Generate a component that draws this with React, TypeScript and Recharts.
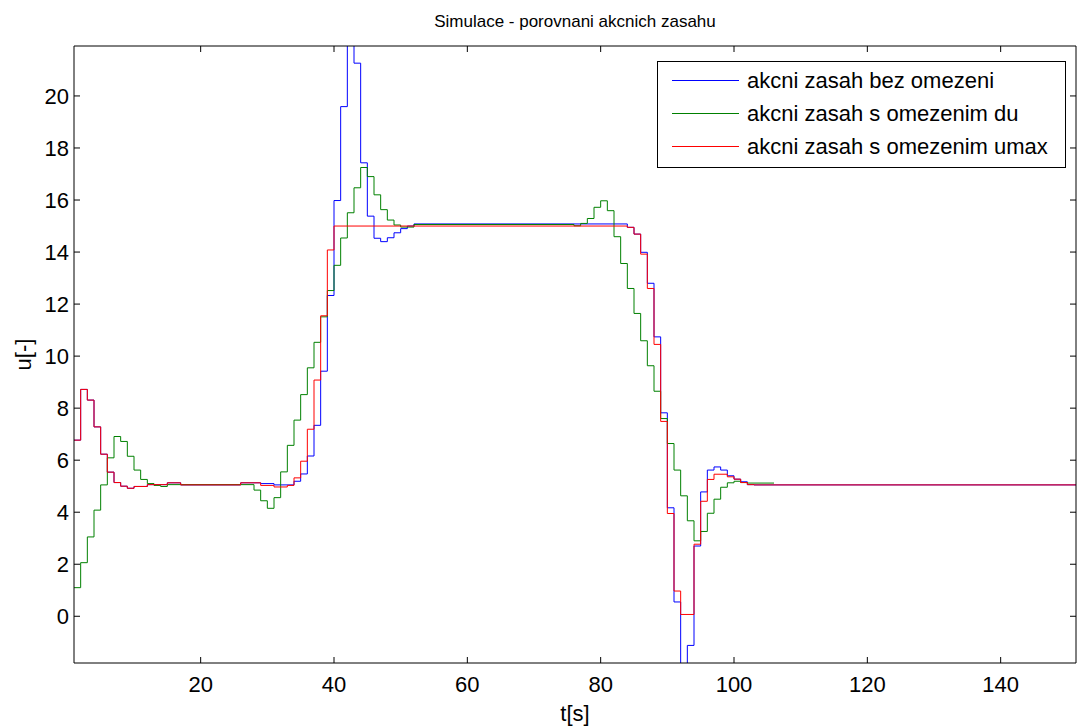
import { LineChart, Line, XAxis, YAxis, Legend } from "recharts";

// ── Data: time [s] where the step starts, and the value u[-] held from there ──
const tBezOmezeni = [
  1, 2, 3, 4, 5, 6, 7, 8, 9, 10, 12, 15, 17, 26, 29, 31,
  34, 35, 36, 37, 38, 39, 40, 41, 42, 43, 44, 45, 46, 47, 48, 49, 50, 51, 52,
  84, 85, 86, 87, 88, 89, 90, 91, 92, 93, 94, 95, 96, 97, 98, 99, 100, 101, 102, 103, 152,
];
const uBezOmezeni = [
  6.77, 8.72, 8.31, 7.28, 6.23, 5.54, 5.14, 5.0, 4.92, 4.99, 5.06, 5.13, 5.05, 5.13, 5.1, 5.05,
  5.19, 5.47, 6.16, 7.34, 9.42, 12.33, 15.98, 19.59, 23.0, 21.26, 17.43, 15.38, 14.53, 14.4, 14.55, 14.74, 14.9, 15.0, 15.08,
  14.95, 14.69, 13.99, 12.8, 10.74, 7.82, 4.17, 0.55, -2.6, -1.12, 2.7, 4.78, 5.62, 5.74, 5.62, 5.4, 5.27, 5.17, 5.06, 5.05, 5.05,
];

const tOmezeniDu = [
  1, 2, 3, 4, 5, 6, 7, 8, 9, 10, 11, 12, 13, 14, 15,
  28, 29, 30, 31, 32, 33, 34, 35, 36, 37, 38, 39, 40, 41, 42, 43, 44, 45, 46, 47, 48, 49, 50, 52,
  76, 77, 78, 79, 80, 81, 82, 83, 84, 85, 86, 87, 88, 89, 90, 91, 92, 93, 94, 95, 96, 97, 98, 99, 100, 101, 102, 106,
];
const uOmezeniDu = [
  1.1, 2.06, 3.05, 4.08, 5.05, 6.09, 6.91, 6.72, 6.15, 5.62, 5.26, 5.1, 5.03, 4.99, 5.06,
  4.85, 4.44, 4.15, 4.56, 5.55, 6.57, 7.54, 8.52, 9.55, 10.53, 11.51, 12.52, 13.49, 14.54, 15.51, 16.47, 17.25, 16.9, 16.2, 15.63, 15.23, 15.04, 14.96, 15.06,
  15.01, 15.1, 15.29, 15.72, 15.97, 15.59, 14.59, 13.56, 12.6, 11.64, 10.59, 9.63, 8.65, 7.6, 6.64, 5.62, 4.63, 3.67, 2.9, 3.26, 3.96, 4.5, 4.96, 5.13, 5.19, 5.14, 5.12, 5.12,
];

const tOmezeniUmax = [
  1, 2, 3, 4, 5, 6, 7, 8, 9, 10, 12, 15, 17, 26, 29, 31, 33,
  34, 35, 36, 37, 38, 39, 40,
  84, 85, 86, 87, 88, 89, 90, 91, 92, 94, 95, 96, 97, 99, 100, 101, 102, 103, 152,
];
const uOmezeniUmax = [
  6.77, 8.72, 8.31, 7.28, 6.23, 5.54, 5.14, 5.0, 4.92, 4.99, 5.06, 5.13, 5.05, 5.13, 5.03, 4.97, 5.03,
  5.32, 5.96, 7.19, 9.08, 11.55, 14.08, 15.0,
  14.95, 14.69, 13.92, 12.6, 10.45, 7.49, 3.95, 0.97, 0.07, 2.77, 4.42, 5.26, 5.46, 5.36, 5.27, 5.14, 5.06, 5.05, 5.05,
];

const seriesNames = [
  "akcni zasah bez omezeni",
  "akcni zasah s omezenim du",
  "akcni zasah s omezenim umax",
];
const seriesColors = ["#0000ff", "#008000", "#ff0000"];

const xTicks = [20, 40, 60, 80, 100, 120, 140];
const yTicks = [0, 2, 4, 6, 8, 10, 12, 14, 16, 18, 20];

const X_DOMAIN: [number, number] = [1, 151.3];
const Y_DOMAIN: [number, number] = [-1.796, 21.92];

const FONT = "'Liberation Sans', Arial, Helvetica, sans-serif";

const toSteps = (t: number[], u: number[]) => t.map((x, i) => ({ t: x, u: u[i] }));
const seriesData = [
  toSteps(tBezOmezeni, uBezOmezeni),
  toSteps(tOmezeniDu, uOmezeniDu),
  toSteps(tOmezeniUmax, uOmezeniUmax),
];

// ── Legend box (MATLAB style) ────────────────────────────────────────────────
function LegendBox() {
  return (
    <div
      style={{
        boxSizing: "border-box",
        width: 409,
        height: 107,
        border: "1px solid #000",
        background: "#fff",
        paddingTop: 2,
      }}
    >
      {seriesNames.map((name, i) => (
        <div key={name} style={{ display: "flex", alignItems: "center", height: 33 }}>
          <svg width={67} height={3} style={{ marginLeft: 14, display: "block" }}>
            <line x1={0} y1={1.5} x2={67} y2={1.5} stroke={seriesColors[i]} strokeWidth={1} />
          </svg>
          <span style={{ marginLeft: 8, fontSize: 22, color: "#000", whiteSpace: "nowrap" }}>
            {name}
          </span>
        </div>
      ))}
    </div>
  );
}

function YLabel({ viewBox }: any) {
  const cy = viewBox.y + viewBox.height / 2;
  return (
    <text
      x={0}
      y={0}
      transform={`translate(23, ${cy}) rotate(-90)`}
      textAnchor="middle"
      dy="0.35em"
      fontSize={22}
      fill="#000"
    >
      u[-]
    </text>
  );
}

export default function App() {
  return (
    <div
      style={{
        position: "absolute",
        left: 0,
        top: 0,
        width: 1078,
        height: 726,
        background: "#fff",
        fontFamily: FONT,
      }}
    >
      <div
        style={{
          position: "absolute",
          left: 74,
          top: 12,
          width: 1002,
          textAlign: "center",
          fontSize: 17,
          lineHeight: "20px",
          color: "#000",
        }}
      >
        Simulace - porovnani akcnich zasahu
      </div>
      <LineChart width={1078} height={726} margin={{ top: 45, right: 1, bottom: 0, left: 0 }}>
        <XAxis
          xAxisId="b"
          type="number"
          dataKey="t"
          domain={X_DOMAIN}
          ticks={xTicks}
          interval={0}
          allowDataOverflow
          height={63}
          tickSize={-6}
          tickMargin={19}
          stroke="#000"
          tick={{ fill: "#000", fontSize: 22 }}
          label={{ value: "t[s]", position: "insideBottom", offset: 5, fill: "#000", fontSize: 22 }}
        />
        <XAxis
          xAxisId="top"
          orientation="top"
          type="number"
          dataKey="t"
          domain={X_DOMAIN}
          ticks={xTicks}
          interval={0}
          allowDataOverflow
          height={1}
          tickSize={-6}
          stroke="#000"
          tickFormatter={() => ""}
        />
        <YAxis
          yAxisId="l"
          type="number"
          domain={Y_DOMAIN}
          ticks={yTicks}
          interval={0}
          allowDataOverflow
          width={74}
          tickSize={-6}
          tickMargin={11}
          stroke="#000"
          tick={{ fill: "#000", fontSize: 22 }}
          label={{ content: (p: any) => <YLabel viewBox={p.viewBox} /> }}
        />
        <YAxis
          yAxisId="r"
          orientation="right"
          type="number"
          domain={Y_DOMAIN}
          ticks={yTicks}
          interval={0}
          allowDataOverflow
          width={1}
          tickSize={-6}
          stroke="#000"
          tickFormatter={() => ""}
        />
        {seriesData.map((d, i) => (
          <Line
            key={seriesNames[i]}
            xAxisId="b"
            yAxisId="l"
            data={d}
            dataKey="u"
            name={seriesNames[i]}
            type="stepAfter"
            stroke={seriesColors[i]}
            strokeWidth={1}
            dot={false}
            activeDot={false}
            isAnimationActive={false}
          />
        ))}
        <Legend
          layout="vertical"
          align="center"
          verticalAlign="middle"
          content={() => <LegendBox />}
          wrapperStyle={{ left: 657, top: 61, width: 409, height: 107 }}
        />
      </LineChart>
    </div>
  );
}
